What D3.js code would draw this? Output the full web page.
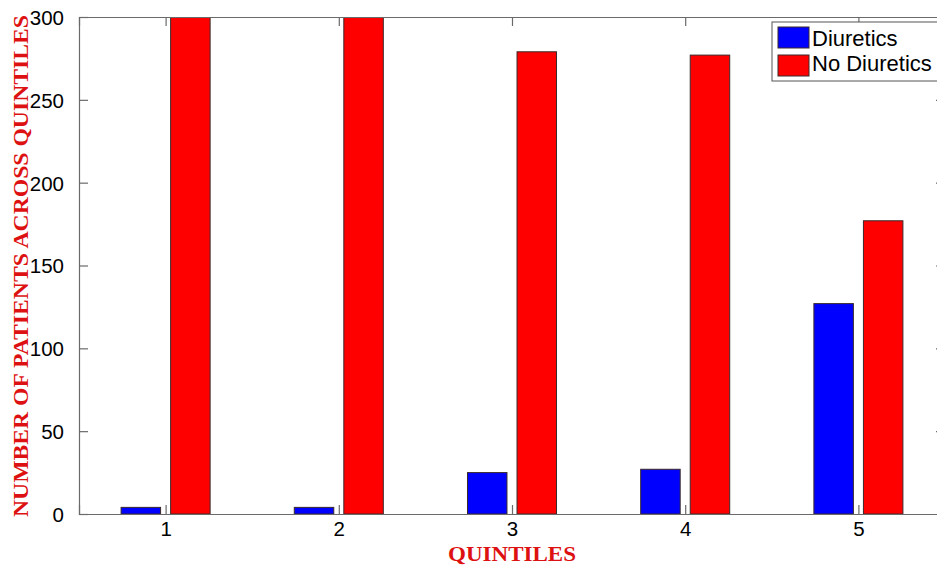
<!DOCTYPE html>
<html>
<head>
<meta charset="utf-8">
<script src="https://cdn.jsdelivr.net/npm/d3@7"></script>
<style>
  html, body { margin: 0; padding: 0; background: #fff; }
  svg { display: block; }
</style>
</head>
<body>
<svg id="chart" width="937" height="567"></svg>
<script>
const categories = [1, 2, 3, 4, 5];
const diuretics = [4, 4, 25, 27, 127];
const noDiuretics = [320, 320, 279, 277, 177];
const yTicks = [0, 50, 100, 150, 200, 250, 300];
const seriesNames = ["Diuretics", "No Diuretics"];
const seriesColors = ["#0000ff", "#ff0000"];

(function () {
const svg = d3.select("#chart");
const mLeft = 79, mRight = 945, mTop = 17, mBottom = 514;

const x = d3.scaleLinear().domain([0.5, 5.5]).range([mLeft, mRight]);
const y = d3.scaleLinear().domain([0, 300]).range([mBottom, mTop]);

const axisColor = "#6a6a6a";

svg.append("defs").append("clipPath").attr("id", "plotclip")
  .append("rect").attr("x", mLeft).attr("y", mTop).attr("width", mRight - mLeft).attr("height", mBottom - mTop);

const barW = 0.228, off = 0.143;
const series = [diuretics, noDiuretics];
const g = svg.append("g").attr("clip-path", "url(#plotclip)");
series.forEach((vals, si) => {
  const o = si === 0 ? -off : off;
  g.selectAll(null).data(categories).enter().append("rect")
    .attr("x", (d) => x(d + o - barW / 2))
    .attr("width", x(barW) - x(0))
    .attr("y", (d, i) => y(vals[i]))
    .attr("height", (d, i) => y(0) - y(vals[i]))
    .attr("fill", seriesColors[si])
    .attr("stroke", "#3a2a2a")
    .attr("stroke-width", 1);
});

const tickLen = 9;
const yAxisL = d3.axisLeft(y).tickValues(yTicks).tickFormat(d3.format("d")).tickSize(-tickLen).tickPadding(tickLen + 6);
const gy = svg.append("g").attr("transform", `translate(${mLeft},0)`).call(yAxisL);
const yAxisR = d3.axisRight(y).tickValues(yTicks).tickSize(-tickLen).tickFormat("");
const gyr = svg.append("g").attr("transform", `translate(${mRight},0)`).call(yAxisR);
const xAxisB = d3.axisBottom(x).tickValues(categories).tickFormat(d3.format("d")).tickSize(-tickLen).tickPadding(tickLen);
const gx = svg.append("g").attr("transform", `translate(0,${mBottom})`).call(xAxisB);
const xAxisT = d3.axisTop(x).tickValues(categories).tickSize(-tickLen).tickFormat("");
const gxt = svg.append("g").attr("transform", `translate(0,${mTop})`).call(xAxisT);

[gy, gyr, gx, gxt].forEach(a => {
  a.select(".domain").attr("stroke", axisColor).attr("stroke-width", 1.2);
  a.selectAll(".tick line").attr("stroke", axisColor).attr("stroke-width", 1.2);
  a.selectAll(".tick text").attr("fill", "#000")
    .style("font-family", "'Liberation Sans', Arial, sans-serif").style("font-size", "20.5px");
});
gy.selectAll(".tick text").attr("dy", "0.36em");
gx.selectAll(".tick text").attr("y", 0).attr("dy", 0).attr("transform", "translate(0,22)");

svg.append("text")
  .attr("transform", `translate(28,${(15 + 517) / 2}) rotate(-90)`)
  .attr("text-anchor", "middle")
  .attr("fill", "#dd1111")
  .style("font-family", "'Liberation Serif', 'Times New Roman', serif")
  .style("font-weight", "bold").style("font-size", "21.5px")
  .attr("textLength", 502).attr("lengthAdjust", "spacingAndGlyphs")
  .text("NUMBER OF PATIENTS ACROSS QUINTILES");

svg.append("text")
  .attr("x", 512).attr("y", 561)
  .attr("text-anchor", "middle")
  .attr("fill", "#dd1111")
  .style("font-family", "'Liberation Serif', 'Times New Roman', serif")
  .style("font-weight", "bold").style("font-size", "21px")
  .attr("textLength", 128).attr("lengthAdjust", "spacingAndGlyphs")
  .text("QUINTILES");

const lg = svg.append("g");
lg.append("rect").attr("x", 772).attr("y", 22).attr("width", 175).attr("height", 59)
  .attr("fill", "#fff").attr("stroke", "#555").attr("stroke-width", 1);
seriesNames.forEach((name, i) => {
  lg.append("rect").attr("x", 778).attr("y", 27 + i * 28).attr("width", 31).attr("height", 21)
    .attr("fill", seriesColors[i]).attr("stroke", "#3a2a2a").attr("stroke-width", 1);
  lg.append("text").attr("x", 812).attr("y", 46 + i * 25)
    .attr("fill", "#000")
    .style("font-family", "'Liberation Sans', Arial, sans-serif").style("font-size", "22px")
    .text(name);
});
})();
</script>
</body>
</html>
